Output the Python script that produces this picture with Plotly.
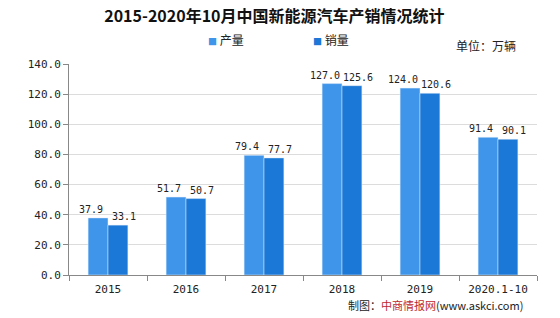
import plotly.graph_objects as go

categories = ["2015", "2016", "2017", "2018", "2019", "2020.1-10"]
production = [37.9, 51.7, 79.4, 127.0, 124.0, 91.4]
sales = [33.1, 50.7, 77.7, 125.6, 120.6, 90.1]
tick_vals = [0, 20, 40, 60, 80, 100, 120, 140]
tick_text = ["0.0", "20.0", "40.0", "60.0", "80.0", "100.0", "120.0", "140.0"]
series_names = ["产量", "销量"]
series_colors = ["#3f95ea", "#1b78d6"]

mono = "DejaVu Sans Mono"
cjk = "Noto Sans CJK SC"
fig = go.Figure()
for name, vals, col in zip(series_names, [production, sales], series_colors):
    fig.add_trace(go.Bar(name=name, x=categories, y=vals, marker_color=col, showlegend=False))

annotations = []
# value labels, nudged apart so neighbouring labels do not collide
for vals, shift in zip([production, sales], [-17, 16]):
    for i, v in enumerate(vals):
        annotations.append(dict(text=f"{v:.1f}", x=i, y=v, xref="x", yref="y", xshift=shift,
                                yshift=1, xanchor="center", yanchor="bottom", showarrow=False,
                                font=dict(family=mono, size=10, color="#222")))
# legend
for name, col, lx in zip(series_names, series_colors, [0.292, 0.518]):
    annotations.append(dict(text=f"<span style='color:{col};font-size:9px'>■</span> {name}",
                            xref="paper", yref="paper", x=lx, y=1.114, xanchor="left",
                            yanchor="middle", showarrow=False,
                            font=dict(family=cjk, size=12, color="#222")))
annotations += [
    dict(text="单位：万辆", xref="paper", yref="paper", x=0.959, y=1.09, xanchor="right",
         yanchor="middle", showarrow=False, font=dict(family=cjk, size=12, color="#222")),
    dict(text="制图：<span style='color:#c0272d'>中商情报网</span>(www.askci.com)", xref="paper",
         yref="paper", x=0.974, y=-0.142, xanchor="right", yanchor="middle", showarrow=False,
         font=dict(family=cjk, size=11, color="#222")),
]

fig.update_layout(
    width=560, height=318, margin=dict(l=69, r=23, t=64, b=43),
    paper_bgcolor="white", plot_bgcolor="white",
    barmode="group", bargap=0.49, bargroupgap=0,
    title=dict(text="<b>2015-2020年10月中国新能源汽车产销情况统计</b>", x=0.49, xanchor="center",
               y=0.95, yanchor="middle", font=dict(family=cjk, size=16, color="#111")),
    showlegend=False,
    xaxis=dict(type="category", showline=True, linecolor="#888", ticks="outside",
               tickson="boundaries", ticklen=5, tickcolor="#888", showgrid=False,
               ticklabelstandoff=4, tickangle=0,
               tickfont=dict(family=mono, size=11, color="#222")),
    yaxis=dict(range=[0, 140], tickvals=tick_vals, ticktext=tick_text, showline=True,
               linecolor="#888", ticks="outside", ticklen=5, tickcolor="#888",
               gridcolor="#dcdcdc", zeroline=False,
               tickfont=dict(family=mono, size=11, color="#222")),
    annotations=annotations,
)

fig.write_html("out.html")
